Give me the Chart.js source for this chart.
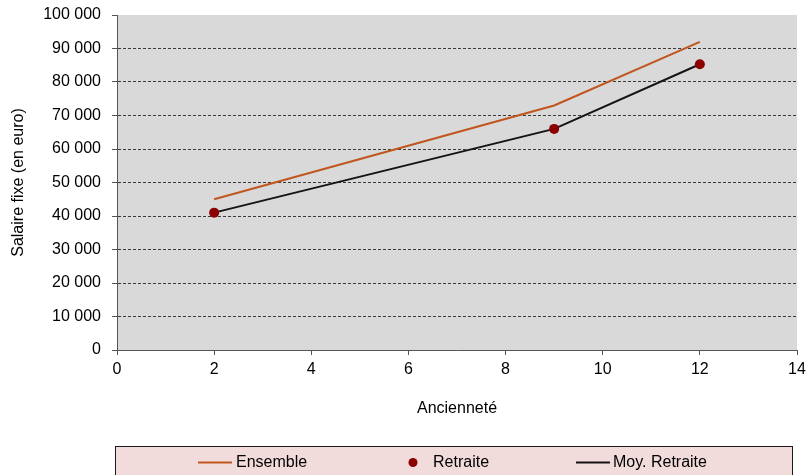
<!DOCTYPE html>
<html>
<head>
<meta charset="utf-8">
<script src="https://cdn.jsdelivr.net/npm/chart.js@4.4.1/dist/chart.umd.min.js"></script>
<style>
  html, body { margin: 0; padding: 0; background: #ffffff; }
  #wrap { width: 808px; height: 475px; position: relative; }
</style>
</head>
<body>
<div id="wrap"><canvas id="chart" width="808" height="475"></canvas></div>
<script>
// Seniority (years) and fixed salary (euro)
const ensembleYears = [2, 9, 12];
const ensembleSalary = [45000, 73000, 92000];
const retraiteYears = [2, 9, 12];
const retraiteSalary = [41000, 66000, 85300];
const seriesLabels = ['Ensemble', 'Retraite', 'Moy. Retraite'];
const xTitle = 'Ancienneté';
const yTitle = 'Salaire fixe (en euro)';

const FONT = '"Liberation Sans", Arial, sans-serif';
const COL_ENSEMBLE = '#c0561e';
const COL_RETRAITE = '#8b0000';
const COL_MOY = '#141414';

const toPoints = (xs, ys) => xs.map((x, i) => ({ x: x, y: ys[i] }));
const fmtThousands = v => String(v).replace(/\B(?=(\d{3})+(?!\d))/g, ' ');

// grey plotting area
const plotBackground = {
  id: 'plotBackground',
  beforeDraw(chart) {
    const { ctx, chartArea: a } = chart;
    ctx.save();
    ctx.fillStyle = '#d9d9d9';
    ctx.fillRect(a.left, a.top, a.right - a.left, a.bottom - a.top);
    ctx.restore();
  }
};

// boxed legend below the chart
const boxedLegend = {
  id: 'boxedLegend',
  afterDraw(chart) {
    const ctx = chart.ctx;
    const ds = chart.data.datasets;
    const y = 462.5;
    ctx.save();
    ctx.fillStyle = '#f2dcdb';
    ctx.fillRect(115.5, 446.5, 677, 40);
    ctx.strokeStyle = '#1a1a1a';
    ctx.lineWidth = 1;
    ctx.strokeRect(115.5, 446.5, 677, 40);

    ctx.font = '16px ' + FONT;
    ctx.fillStyle = '#000000';
    ctx.textBaseline = 'middle';
    ctx.textAlign = 'left';

    const items = [
      { ds: ds[0], kind: 'line', x0: 198, x1: 232, tx: 236 },
      { ds: ds[2], kind: 'dot', cx: 413, tx: 433 },
      { ds: ds[1], kind: 'line', x0: 576, x1: 610, tx: 613 }
    ];
    items.forEach(it => {
      if (it.kind === 'line') {
        ctx.strokeStyle = it.ds.borderColor;
        ctx.lineWidth = 2;
        ctx.beginPath();
        ctx.moveTo(it.x0, y);
        ctx.lineTo(it.x1, y);
        ctx.stroke();
      } else {
        ctx.fillStyle = it.ds.pointBackgroundColor;
        ctx.beginPath();
        ctx.arc(it.cx, y, 4.5, 0, Math.PI * 2);
        ctx.fill();
      }
      ctx.fillStyle = '#000000';
      ctx.fillText(it.ds.label, it.tx, y);
    });
    ctx.restore();
  }
};

new Chart(document.getElementById('chart'), {
  type: 'line',
  data: {
    datasets: [
      {
        label: seriesLabels[0],
        data: toPoints(ensembleYears, ensembleSalary),
        borderColor: COL_ENSEMBLE,
        borderWidth: 2,
        pointRadius: 0,
        tension: 0,
        order: 3
      },
      {
        label: seriesLabels[2],
        data: toPoints(retraiteYears, retraiteSalary),
        borderColor: COL_MOY,
        borderWidth: 2,
        pointRadius: 0,
        tension: 0,
        order: 2
      },
      {
        label: seriesLabels[1],
        data: toPoints(retraiteYears, retraiteSalary),
        showLine: false,
        borderColor: COL_RETRAITE,
        pointBackgroundColor: COL_RETRAITE,
        pointBorderColor: COL_RETRAITE,
        pointRadius: 5,
        pointBorderWidth: 0,
        order: 1
      }
    ]
  },
  options: {
    responsive: false,
    animation: false,
    events: [],
    layout: { padding: { left: 0, top: 15, right: 11, bottom: 55 } },
    plugins: {
      legend: { display: false },
      tooltip: { enabled: false }
    },
    scales: {
      x: {
        type: 'linear',
        min: 0,
        max: 14,
        afterFit(scale) {
          scale.height = 70;
          scale.paddingLeft = 0;
          scale.paddingRight = 0;
        },
        ticks: {
          stepSize: 2,
          padding: 5,
          color: '#000000',
          font: { family: FONT, size: 16 }
        },
        grid: {
          drawOnChartArea: false,
          drawTicks: true,
          tickLength: 5,
          tickColor: '#555555',
          tickWidth: 1
        },
        border: { display: true, color: '#555555', width: 1 },
        title: {
          display: true,
          text: xTitle,
          color: '#000000',
          font: { family: FONT, size: 16 },
          padding: { top: 0, bottom: 2 }
        }
      },
      y: {
        type: 'linear',
        min: 0,
        max: 100000,
        afterFit(scale) {
          scale.width = 117;
          scale.paddingTop = 0;
          scale.paddingBottom = 0;
        },
        ticks: {
          stepSize: 10000,
          padding: 11,
          color: '#000000',
          font: { family: FONT, size: 16 },
          callback: v => fmtThousands(v)
        },
        grid: {
          color: ctx => (ctx.tick && (ctx.tick.value === 0 || ctx.tick.value === 100000)) ? 'rgba(0,0,0,0)' : '#3a3a3a',
          lineWidth: 1,
          drawTicks: true,
          tickLength: 5,
          tickColor: '#555555',
          tickBorderDash: [],
          tickWidth: 1
        },
        border: { display: true, color: '#555555', width: 1, dash: [3, 2] },
        title: {
          display: true,
          text: yTitle,
          color: '#000000',
          font: { family: FONT, size: 16 },
          padding: { top: 9, bottom: 0 }
        }
      }
    }
  },
  plugins: [plotBackground, boxedLegend]
});
</script>
</body>
</html>
